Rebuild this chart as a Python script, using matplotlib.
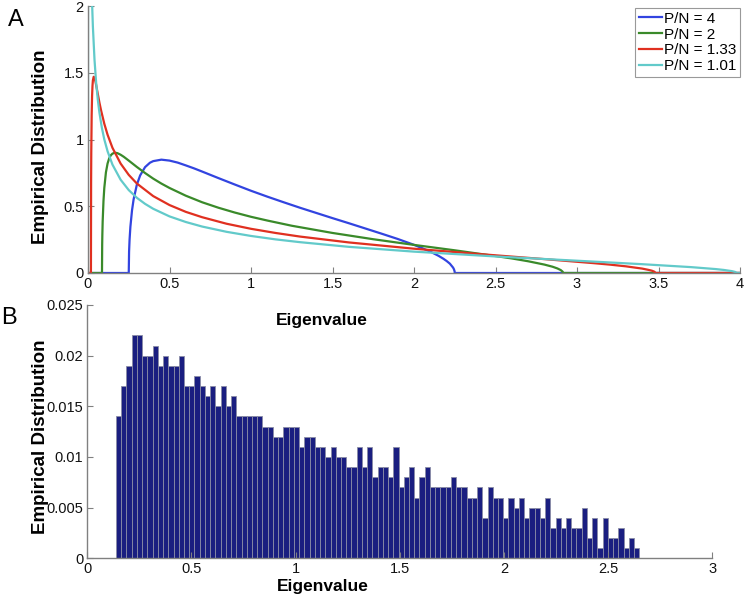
import matplotlib
matplotlib.use("Agg")
import matplotlib.pyplot as plt

plt.rcParams['font.family'] = ['Liberation Sans', 'DejaVu Sans']

# ---------------- Panel A data ----------------
legend_labels = ["P/N = 4", "P/N = 2", "P/N = 1.33", "P/N = 1.01"]

x_blue = [0.0, 0.25, 0.252, 0.255, 0.26, 0.27, 0.28, 0.30, 0.32, 0.35, 0.38, 0.40, 0.45,
          0.5, 0.55, 0.6, 0.65, 0.7, 0.8, 0.9, 1.0, 1.1, 1.2, 1.3, 1.4, 1.5, 1.6, 1.7,
          1.8, 1.9, 2.0, 2.05, 2.1, 2.15, 2.18, 2.2, 2.22, 2.24, 2.245, 2.249, 2.25, 4.0]
y_blue = [0.0, 0.0, 0.160, 0.249, 0.345, 0.469, 0.553, 0.663, 0.731, 0.793, 0.826, 0.838,
          0.849, 0.842, 0.827, 0.806, 0.784, 0.760, 0.711, 0.663, 0.616, 0.572, 0.530,
          0.489, 0.450, 0.411, 0.373, 0.334, 0.295, 0.255, 0.211, 0.186, 0.160, 0.129,
          0.107, 0.090, 0.070, 0.040, 0.028, 0.013, 0.0, 0.0]

x_green = [0.0, 0.0858, 0.087, 0.088, 0.09, 0.095, 0.10, 0.11, 0.12, 0.13, 0.14, 0.15,
           0.16, 0.17, 0.18, 0.2, 0.22, 0.25, 0.3, 0.35, 0.4, 0.45, 0.5, 0.6, 0.7, 0.8,
           0.9, 1.0, 1.1, 1.25, 1.5, 1.75, 2.0, 2.25, 2.5, 2.6, 2.7, 2.8, 2.85, 2.88,
           2.9, 2.91, 2.912, 2.914, 4.0]
y_green = [0.0, 0.0, 0.214, 0.286, 0.386, 0.540, 0.637, 0.754, 0.820, 0.859, 0.882, 0.894,
           0.899, 0.900, 0.898, 0.886, 0.870, 0.842, 0.794, 0.749, 0.707, 0.670, 0.637,
           0.579, 0.530, 0.489, 0.453, 0.421, 0.393, 0.354, 0.300, 0.253, 0.2105, 0.170,
           0.127, 0.109, 0.088, 0.063, 0.047, 0.034, 0.022, 0.012, 0.009, 0.0, 0.0]

x_red = [0.0, 0.018, 0.019, 0.02, 0.0225, 0.025, 0.0275, 0.03, 0.035, 0.04, 0.045, 0.05,
         0.06, 0.07, 0.08, 0.1, 0.12, 0.15, 0.2, 0.25, 0.3, 0.4, 0.5, 0.6, 0.7, 0.85,
         1.0, 1.15, 1.3, 1.6, 2.0, 2.4, 2.8, 3.1, 3.2, 3.3, 3.4, 3.44, 3.46, 3.475,
         3.482, 4.0]
y_red = [0.0, 0.0, 0.673, 0.894, 1.184, 1.325, 1.401, 1.443, 1.470, 1.462, 1.438, 1.408,
         1.342, 1.277, 1.219, 1.118, 1.036, 0.938, 0.820, 0.735, 0.670, 0.576, 0.509,
         0.458, 0.418, 0.369, 0.331, 0.300, 0.273, 0.229, 0.182, 0.142, 0.104, 0.074,
         0.063, 0.050, 0.033, 0.023, 0.017, 0.0095, 0.0, 0.0]

x_cyan = [0.0, 0.001, 0.005, 0.01, 0.015, 0.02, 0.025, 0.03, 0.04, 0.05, 0.06, 0.07,
          0.085, 0.1, 0.12, 0.15, 0.2, 0.25, 0.3, 0.35, 0.4, 0.5, 0.6, 0.7, 0.85, 1.0,
          1.15, 1.3, 1.6, 2.0, 2.5, 3.0, 3.4, 3.7, 3.85, 3.9, 3.95, 3.97, 3.98, 4.0]
y_cyan = [0.0, 10.0, 4.53, 3.2, 2.614, 2.262, 2.022, 1.845, 1.596, 1.425, 1.300, 1.202,
          1.088, 1.001, 0.912, 0.812, 0.699, 0.621, 0.563, 0.518, 0.481, 0.424, 0.382,
          0.348, 0.3085, 0.2775, 0.252, 0.231, 0.196, 0.160, 0.124, 0.092, 0.066, 0.044,
          0.0295, 0.023, 0.014, 0.008, 0.0, 0.0]

# ---------------- Panel B data (histogram, fraction per bin) ----------------
bin_start = 0.1375
bin_width = 0.02512
hist_counts = [14, 17, 19, 22, 22, 20, 20, 21, 19, 20,
               19, 19, 20, 17, 17, 18, 17, 16, 17, 15,
               17, 15, 16, 14, 14, 14, 14, 14, 13, 13,
               12, 12, 13, 13, 13, 11, 12, 12, 11, 11,
               10, 11, 10, 10, 9, 9, 11, 9, 11, 8,
               9, 9, 8, 11, 7, 8, 9, 6, 8, 9,
               7, 7, 7, 7, 8, 7, 7, 6, 6, 7,
               4, 7, 6, 6, 4, 6, 5, 6, 4, 5,
               5, 4, 6, 3, 4, 3, 4, 3, 3, 5,
               2, 4, 1, 4, 2, 2, 3, 1, 2, 1]
hist_values = [c / 1000.0 for c in hist_counts]

colors = ['#3244e0', '#3a8a2a', '#e03020', '#62caca']
axis_grey = '#808080'

W, H = 747, 598
fig = plt.figure(figsize=(W / 100, H / 100), dpi=100)

def style(ax):
    for s in ['top', 'right']:
        ax.spines[s].set_visible(False)
    for s in ['left', 'bottom']:
        ax.spines[s].set_color(axis_grey)
        ax.spines[s].set_linewidth(1.0)
    ax.tick_params(direction='in', length=4, width=0.8, color=axis_grey,
                   labelsize=10.5, labelcolor='#111111', pad=3)

# Panel A
axA = fig.add_axes([88 / W, 1 - 273 / H, (740 - 88) / W, (273 - 6) / H])
for xs, ys, c, lab in zip([x_blue, x_green, x_red, x_cyan],
                          [y_blue, y_green, y_red, y_cyan], colors, legend_labels):
    axA.plot(xs, ys, color=c, lw=1.6, label=lab, solid_joinstyle='round')
axA.set_xlim(0, 4)
axA.set_ylim(0, 2)
axA.set_xticks([0, 0.5, 1, 1.5, 2, 2.5, 3, 3.5, 4])
axA.set_xticklabels(['0', '0.5', '1', '1.5', '2', '2.5', '3', '3.5', '4'])
axA.set_yticks([0, 0.5, 1, 1.5, 2])
axA.set_yticklabels(['0', '0.5', '1', '1.5', '2'])
style(axA)
leg = axA.legend(loc='upper right', bbox_to_anchor=(1.0, 0.993), fontsize=11,
                 frameon=True, fancybox=False, handlelength=1.5, handletextpad=0.15,
                 borderpad=0.25, labelspacing=0.12, borderaxespad=0.0)
leg.get_frame().set_edgecolor(axis_grey)
leg.get_frame().set_linewidth(0.8)
fig.text(41 / W, 1 - 147 / H, 'Empirical Distribution', rotation=90, ha='center',
         va='center', fontsize=13.5, fontweight='bold')
fig.text(16 / W, 1 - 20 / H, 'A', ha='center', va='center', fontsize=17)

# Panel B
axB = fig.add_axes([87.3 / W, 1 - 558.3 / H, (712.3 - 87.3) / W, (558.3 - 305) / H])
edges = [bin_start + i * bin_width for i in range(len(hist_values))]
axB.bar(edges, hist_values, width=bin_width, align='edge', color='#1a1e80',
        edgecolor='#8a8ca6', linewidth=0.6)
axB.set_xlim(0, 3)
axB.set_ylim(0, 0.025)
axB.set_xticks([0, 0.5, 1, 1.5, 2, 2.5, 3])
axB.set_xticklabels(['0', '0.5', '1', '1.5', '2', '2.5', '3'])
axB.set_yticks([0, 0.005, 0.01, 0.015, 0.02, 0.025])
axB.set_yticklabels(['0', '0.005', '0.01', '0.015', '0.02', '0.025'])
style(axB)
fig.text(41 / W, 1 - 437 / H, 'Empirical Distribution', rotation=90, ha='center',
         va='center', fontsize=13.5, fontweight='bold')
fig.text(9 / W, 1 - 318 / H, 'B', ha='center', va='center', fontsize=17)
fig.text(322 / W, 1 - 321 / H, 'Eigenvalue', ha='center', va='center',
         fontsize=12.5, fontweight='bold')
fig.text(323 / W, 1 - 587 / H, 'Eigenvalue', ha='center', va='center',
         fontsize=12.5, fontweight='bold')

fig.savefig('out.png', dpi=100)
